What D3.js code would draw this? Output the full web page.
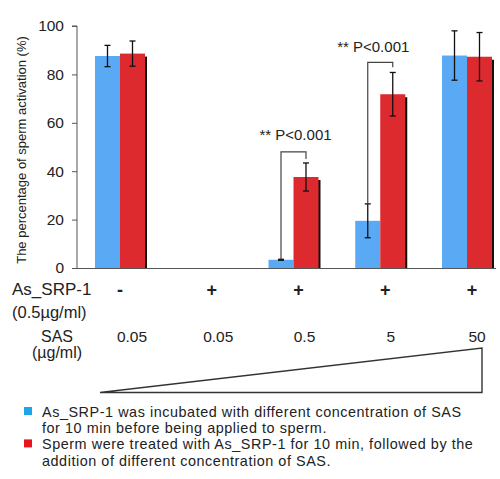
<!DOCTYPE html>
<html>
<head>
<meta charset="utf-8">
<script src="https://cdn.jsdelivr.net/npm/d3@7"></script>
<style>
  body { margin: 0; background: #fff; }
  svg { font-family: "Liberation Sans", Arial, sans-serif; }
</style>
</head>
<body>
<div id="chart"></div>
<script>
// Data
const groups = [0, 1, 2, 3, 4];
const srpLabels = ["-", "+", "+", "+", "+"];
const sasLabels = ["0.05", "0.05", "0.5", "5", "50"];
const blueVals = [87.6, 0, 3.4, 19.5, 87.8];
const blueErr = [4.4, 0, 0.2, 7, 10.2];
const redVals = [88.6, 0, 37.6, 71.8, 87.3];
const redErr = [5.2, 0, 5.8, 9, 10];
const yTicks = [0, 20, 40, 60, 80, 100];
// significance brackets: group, bracket top, right drop end, label height
const sigGroups = [2, 3];
const sigTop = [48, 85];
const sigEnd = [45, 83];
const sigLabelY = [55, 91.5];
const sigText = "** P<0.001";
const legendText = [
  ["As_SRP-1 was incubated with different concentration of SAS",
   "for 10 min before being applied to sperm."],
  ["Sperm were treated with As_SRP-1 for 10 min, followed by the",
   "addition of different concentration of SAS."]
];

const W = 500, H = 479;
const blue = "#5aa9f5", red = "#dc2a2f";
const legendColors = ["#1ea5e9", "#e8151c"];

const svg = d3.select("#chart").append("svg")
  .attr("width", W).attr("height", H);

const y = d3.scaleLinear().domain([0, 100]).range([268, 26]);
const x = d3.scalePoint().domain(groups).range([120, 467]);
const inner = d3.scaleBand().domain(["b", "r"]).range([-25, 25]);

// y axis
const yAxis = svg.append("g")
  .attr("transform", "translate(77,0)")
  .call(d3.axisLeft(y).tickValues(yTicks).tickSize(5).tickPadding(8));
yAxis.select(".domain").attr("stroke", "#555").attr("d", "M-5," + y(100) + "H0V" + y(0));
yAxis.selectAll(".tick line").attr("stroke", "#555");
yAxis.selectAll(".tick text").attr("font-size", 15.5)
  .attr("font-family", "'Liberation Sans', Arial, sans-serif").attr("fill", "#222");

// y title
svg.append("text")
  .attr("transform", "translate(26," + ((y(0) + y(100)) / 2 + 3) + ") rotate(-90)")
  .attr("text-anchor", "middle")
  .attr("font-size", 13)
  .attr("fill", "#222")
  .text("The percentage of sperm activation (%)");

// shadows behind red bars
svg.append("g").selectAll("rect")
  .data(groups).join("rect")
  .attr("x", d => x(d) + inner("r") + 2)
  .attr("y", d => y(redVals[d]) + 3)
  .attr("width", inner.bandwidth())
  .attr("height", d => y(0) - y(redVals[d]) - 2)
  .attr("fill", "#111");

// bars
svg.append("g").selectAll("rect")
  .data(groups).join("rect")
  .attr("x", d => x(d) + inner("b"))
  .attr("y", d => y(blueVals[d]))
  .attr("width", inner.bandwidth())
  .attr("height", d => y(0) - y(blueVals[d]))
  .attr("fill", blue);
svg.append("g").selectAll("rect")
  .data(groups).join("rect")
  .attr("x", d => x(d) + inner("r"))
  .attr("y", d => y(redVals[d]))
  .attr("width", inner.bandwidth())
  .attr("height", d => y(0) - y(redVals[d]))
  .attr("fill", red);

// x axis line
svg.append("line")
  .attr("x1", 77).attr("x2", 496)
  .attr("y1", y(0) + 0.5).attr("y2", y(0) + 0.5)
  .attr("stroke", "#555");

// error bars
function errorBars(vals, errs, key) {
  const g = svg.append("g").attr("stroke", "#111").attr("stroke-width", 1.3);
  groups.filter(d => vals[d] > 0).forEach(d => {
    const cx = x(d) + inner(key) + inner.bandwidth() / 2;
    const hi = y(vals[d] + errs[d]), lo = y(vals[d] - errs[d]);
    g.append("line").attr("x1", cx).attr("x2", cx).attr("y1", hi).attr("y2", lo);
    g.append("line").attr("x1", cx - 3).attr("x2", cx + 3).attr("y1", hi).attr("y2", hi);
    g.append("line").attr("x1", cx - 3).attr("x2", cx + 3).attr("y1", lo).attr("y2", lo);
  });
}
errorBars(blueVals, blueErr, "b");
errorBars(redVals, redErr, "r");

// significance brackets
sigGroups.forEach((gi, i) => {
  const bx = x(gi) + inner("b") + inner.bandwidth() / 2;
  const rx = x(gi) + inner("r") + inner.bandwidth() / 2;
  const start = y(blueVals[gi] + blueErr[gi]);
  svg.append("path")
    .attr("d", `M${bx},${start}V${y(sigTop[i])}H${rx}V${y(sigEnd[i])}`)
    .attr("fill", "none").attr("stroke", "#444").attr("stroke-width", 1.2);
  svg.append("text")
    .attr("x", (bx + rx) / 2 + 2 - i * 9)
    .attr("y", y(sigLabelY[i]) + 5)
    .attr("text-anchor", "middle")
    .attr("font-size", 15).attr("fill", "#222")
    .text(sigText);
});

// row labels under the axis
const rows = svg.append("g").attr("fill", "#222");
rows.append("text").attr("x", 12).attr("y", 295).attr("font-size", 17).text("As_SRP-1");
rows.append("text").attr("x", 12).attr("y", 318).attr("font-size", 16.5).text("(0.5µg/ml)");
rows.append("text").attr("x", 57).attr("y", 342).attr("font-size", 16)
  .attr("text-anchor", "middle").text("SAS");
rows.append("text").attr("x", 57).attr("y", 358).attr("font-size", 16)
  .attr("text-anchor", "middle").text("(µg/ml)");

rows.selectAll(".srp")
  .data(groups).join("text")
  .attr("class", "srp")
  .attr("x", d => x(d) + (d === 0 ? 0 : 5))
  .attr("y", 296)
  .attr("text-anchor", "middle")
  .attr("font-size", 18).attr("font-weight", "bold")
  .text(d => srpLabels[d]);

const sasX = d3.scalePoint().domain(groups).range([132, 477]);
rows.selectAll(".sas")
  .data(groups).join("text")
  .attr("class", "sas")
  .attr("x", d => sasX(d))
  .attr("y", 342)
  .attr("text-anchor", "middle")
  .attr("font-size", 15.5)
  .text(d => sasLabels[d]);

// concentration wedge
svg.append("path")
  .attr("d", `M${x(0) - 20},392.5L${x(4) + 15},348V392.5Z`)
  .attr("fill", "none").attr("stroke", "#333").attr("stroke-width", 1.4);

// legend
const leg = svg.append("g");
legendText.forEach((lines, i) => {
  const base = 417 + i * 32.4;
  leg.append("rect")
    .attr("x", 24).attr("y", base - 10)
    .attr("width", 8).attr("height", 8)
    .attr("fill", legendColors[i]);
  lines.forEach((t, j) => {
    leg.append("text")
      .attr("x", 42).attr("y", base + j * 16.2)
      .attr("font-size", 14.4).attr("fill", "#222")
      .attr("letter-spacing", 0.55)
      .text(t);
  });
});
</script>
</body>
</html>
